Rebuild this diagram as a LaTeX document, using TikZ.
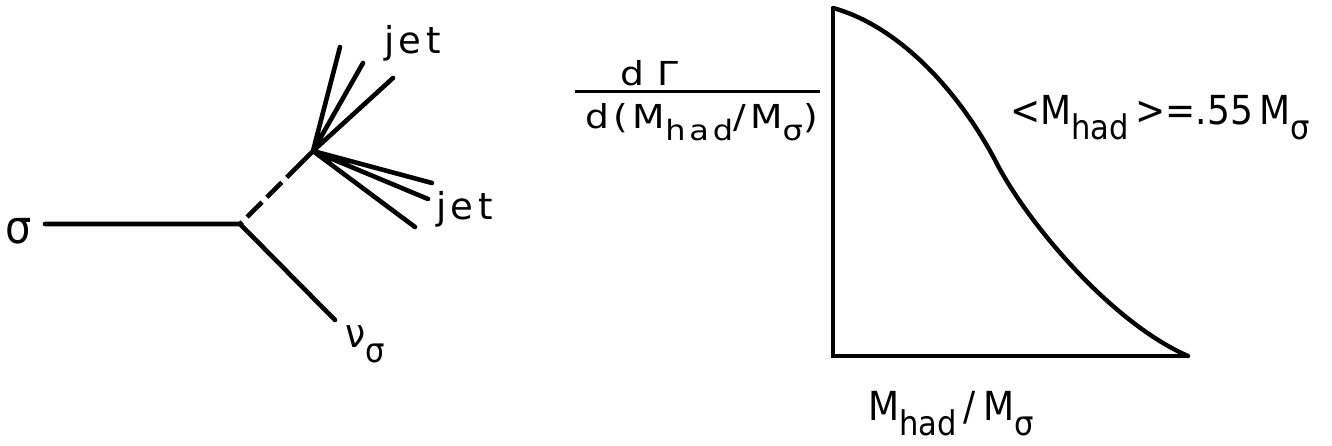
\documentclass[tikz,border=0pt]{standalone}
\usepackage{fontspec}
\setmainfont{DejaVu Sans Condensed}
\newfontfamily\widefont[LetterSpace=12]{DejaVu Sans}
\newcommand{\lsub}[1]{\raisebox{-0.38em}{\scalebox{0.85}{#1}}}
\newcommand{\wide}[1]{\scalebox{1.14}[1]{#1}}
\begin{document}
\begin{tikzpicture}[x=1pt,y=-1pt,
  ln/.style={line width=4.6pt,line cap=round},
  axis/.style={line width=4.4pt},
  lbl/.style={inner sep=0pt,anchor=base west,font=\fontsize{40}{40}\selectfont},
  jlbl/.style={inner sep=0pt,anchor=base west,font=\widefont\fontsize{37}{37}\selectfont},
  flbl/.style={inner sep=0pt,anchor=base west,font=\widefont\fontsize{33}{33}\selectfont}]
\useasboundingbox (0,0) rectangle (1332,445);
% ---- decay diagram ----
\node[lbl,font=\fontsize{46}{46}\selectfont] (sig) at (5,243) {σ};
\coordinate (S0) at (45,224);
\coordinate (V) at (240,224);
\coordinate (J) at (313,151);
\coordinate (N) at (335,320);
\coordinate (a1) at (340,47);
\coordinate (a2) at (363,63);
\coordinate (a3) at (393,78);
\coordinate (b1) at (432,183);
\coordinate (b2) at (428,199);
\coordinate (b3) at (415,227);
\draw[ln] (S0) -- (V) -- (N);
\draw[ln,line cap=butt,dash pattern=on 3pt off 7pt on 21pt off 7pt on 21pt off 7pt on 40pt] (V) -- (J);
\draw[ln] (J) -- (a1) (J) -- (a2) (J) -- (a3);
\draw[ln] (J) -- (b1) (J) -- (b2) (J) -- (b3);
\node[jlbl] (jet1) at (384,53) {jet};
\node[jlbl] (jet2) at (436,219) {jet};
\node[lbl] (nu) at (345,347) {ν\lsub{σ}};
% ---- distribution ----
\coordinate (O) at (833,356);
\coordinate (Yt) at (833,8);
\coordinate (Xe) at (1188,356);
\coordinate (Ip) at (995,160);
\draw[axis] (Yt) -- (O) -- (Xe);
\draw[line width=4.4pt,line cap=round] (Yt) .. controls (895,25) and (955,85) .. (Ip)
  .. controls (1025,220) and (1110,322) .. (Xe);
\node[lbl] (mean) at (1010,124) {<M\lsub{had}\,>=.55\,M\lsub{σ}};
\node[lbl] (xl) at (868,420) {M\lsub{had}\,/\kern8pt M\lsub{σ}};
\node[flbl] (num) at (620,85) {\wide{d\kern12ptΓ}};
\node[flbl] (den) at (585,128) {\wide{d(M\lsub{had}/M\lsub{σ})}};
\coordinate (fl) at (575,91);
\coordinate (fr) at (820,91);
\draw[line width=3pt] (fl) -- (fr);
\end{tikzpicture}
\end{document}
